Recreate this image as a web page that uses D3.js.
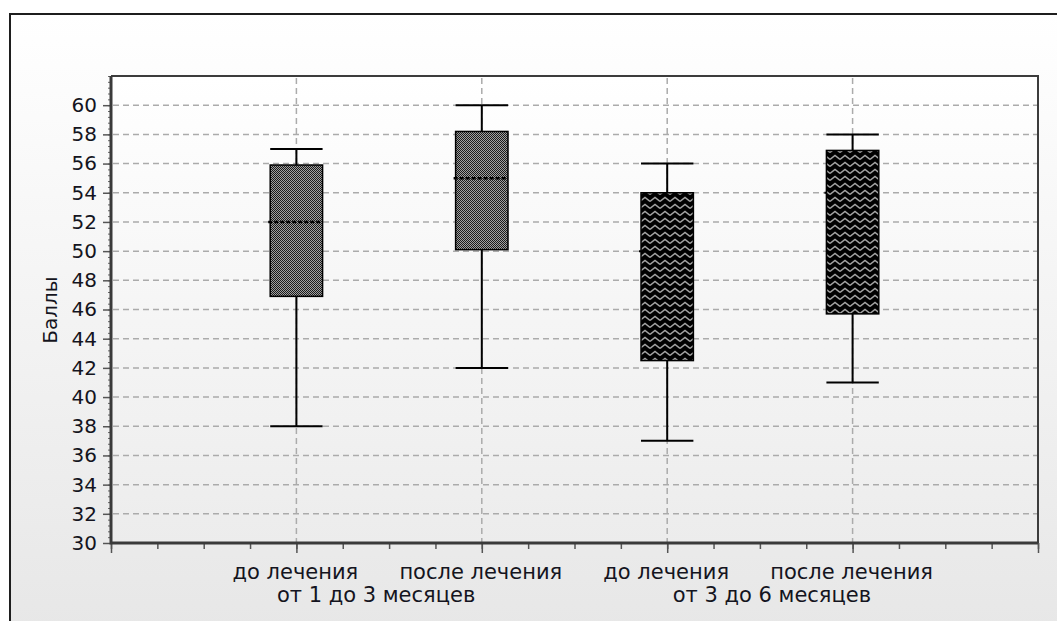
<!DOCTYPE html>
<html>
<head>
<meta charset="utf-8">
<script src="https://cdn.jsdelivr.net/npm/d3@7"></script>
<style>
  html, body { margin: 0; padding: 0; background: #ffffff; }
  svg { display: block; }
  text { font-family: "DejaVu Sans", Verdana, sans-serif; fill: #141420; }
</style>
</head>
<body>
<svg id="chart" width="1057" height="621"></svg>
<script>
// ---- data ----
const categories   = ["до лечения", "после лечения", "до лечения", "после лечения"];
const groupLabels  = ["от 1 до 3 месяцев", "от 3 до 6 месяцев"];
const whiskerLow   = [38, 42, 37, 41];
const q1           = [46.9, 50.1, 42.5, 45.7];
const median       = [52, 55, 50, 54];
const q3           = [55.9, 58.2, 54.0, 56.9];
const whiskerHigh  = [57, 60, 56, 58];
const fillKind     = ["dots", "dots", "zigzag", "zigzag"];
const yTickValues  = d3.range(30, 61, 2);
const yLabel       = "Баллы";

// ---- layout ----
const W = 1057, H = 621;
const plot = { left: 111, top: 76, right: 1038, bottom: 543 };
const svg = d3.select("#chart");

const x = d3.scaleLinear().domain([0, 20]).range([plot.left, plot.right]);
const y = d3.scaleLinear().domain([30, 62]).range([plot.bottom, plot.top]);
const catPos = i => 4 * (i + 1);
const boxW = x(1.13) - x(0);

const defs = svg.append("defs");
const bgGrad = defs.append("linearGradient").attr("id", "bgGrad")
  .attr("x1", 0).attr("y1", 0).attr("x2", 0).attr("y2", 1);
bgGrad.append("stop").attr("offset", "0%").attr("stop-color", "#ffffff");
bgGrad.append("stop").attr("offset", "100%").attr("stop-color", "#e6e6e6");
const plotGrad = defs.append("linearGradient").attr("id", "plotGrad")
  .attr("x1", 0).attr("y1", 0).attr("x2", 0).attr("y2", 1);
plotGrad.append("stop").attr("offset", "0%").attr("stop-color", "#ffffff");
plotGrad.append("stop").attr("offset", "100%").attr("stop-color", "#ececec");

// dotted (checker) pattern
const pDots = defs.append("pattern").attr("id", "dots").attr("patternUnits", "userSpaceOnUse")
  .attr("width", 2).attr("height", 2);
pDots.append("rect").attr("width", 2).attr("height", 2).attr("fill", "#a0a0a0");
pDots.append("rect").attr("x", 0).attr("y", 0).attr("width", 1).attr("height", 1).attr("fill", "#1a1a1a");
pDots.append("rect").attr("x", 1).attr("y", 1).attr("width", 1).attr("height", 1).attr("fill", "#1a1a1a");

// zigzag pattern
const pZig = defs.append("pattern").attr("id", "zigzag").attr("patternUnits", "userSpaceOnUse")
  .attr("width", 10).attr("height", 7);
pZig.append("rect").attr("width", 10).attr("height", 7).attr("fill", "#000000");
pZig.append("path").attr("d", "M0,5.5 L5,1.5 L10,5.5").attr("fill", "none")
  .attr("stroke", "#a4a4a4").attr("stroke-width", 1.4);

// outer background
svg.append("rect").attr("x", 0).attr("y", 0).attr("width", W).attr("height", H).attr("fill", "#ffffff");
svg.append("rect").attr("x", 10).attr("y", 14).attr("width", W + 20).attr("height", H + 20)
  .attr("fill", "url(#bgGrad)").attr("stroke", "#1e1e1e").attr("stroke-width", 2);

// plot area background
svg.append("rect").attr("x", plot.left).attr("y", plot.top)
  .attr("width", plot.right - plot.left).attr("height", plot.bottom - plot.top)
  .attr("fill", "url(#plotGrad)");

// gridlines
const grid = svg.append("g");
grid.selectAll("line.h").data(yTickValues.filter(v => v > 30)).join("line")
  .attr("x1", plot.left + 2).attr("x2", plot.right)
  .attr("y1", d => y(d)).attr("y2", d => y(d))
  .attr("stroke", "#ababab").attr("stroke-width", 1.5).attr("stroke-dasharray", "6,4");
grid.selectAll("line.v").data(categories.map((c, i) => catPos(i))).join("line")
  .attr("x1", d => x(d)).attr("x2", d => x(d))
  .attr("y1", plot.top + 2).attr("y2", plot.bottom)
  .attr("stroke", "#ababab").attr("stroke-width", 1.5).attr("stroke-dasharray", "6,4");

// boxes
const idx = categories.map((c, i) => i);
const boxes = svg.append("g").selectAll("g").data(idx).join("g");
boxes.append("line")
  .attr("x1", i => x(catPos(i))).attr("x2", i => x(catPos(i)))
  .attr("y1", i => y(whiskerHigh[i])).attr("y2", i => y(q3[i]))
  .attr("stroke", "#000").attr("stroke-width", 2);
boxes.append("line")
  .attr("x1", i => x(catPos(i))).attr("x2", i => x(catPos(i)))
  .attr("y1", i => y(q1[i])).attr("y2", i => y(whiskerLow[i]))
  .attr("stroke", "#000").attr("stroke-width", 2);
boxes.append("line")
  .attr("x1", i => x(catPos(i)) - boxW / 2).attr("x2", i => x(catPos(i)) + boxW / 2)
  .attr("y1", i => y(whiskerHigh[i])).attr("y2", i => y(whiskerHigh[i]))
  .attr("stroke", "#000").attr("stroke-width", 2);
boxes.append("line")
  .attr("x1", i => x(catPos(i)) - boxW / 2).attr("x2", i => x(catPos(i)) + boxW / 2)
  .attr("y1", i => y(whiskerLow[i])).attr("y2", i => y(whiskerLow[i]))
  .attr("stroke", "#000").attr("stroke-width", 2);
// median under the box for dark (zigzag) fills, so only its small stub shows
boxes.filter(i => fillKind[i] === "zigzag").append("line")
  .attr("x1", i => x(catPos(i)) - boxW / 2 - 2).attr("x2", i => x(catPos(i)) + boxW / 2)
  .attr("y1", i => y(median[i])).attr("y2", i => y(median[i]))
  .attr("stroke", "#000").attr("stroke-width", 2);
boxes.append("rect")
  .attr("x", i => x(catPos(i)) - boxW / 2)
  .attr("y", i => y(q3[i]))
  .attr("width", boxW)
  .attr("height", i => y(q1[i]) - y(q3[i]))
  .attr("fill", i => `url(#${fillKind[i]})`)
  .attr("stroke", "#000").attr("stroke-width", 1.5);
boxes.filter(i => fillKind[i] === "dots").append("line")
  .attr("x1", i => x(catPos(i)) - boxW / 2 - 2).attr("x2", i => x(catPos(i)) + boxW / 2)
  .attr("y1", i => y(median[i])).attr("y2", i => y(median[i]))
  .attr("stroke", "#000").attr("stroke-width", 2.5).attr("stroke-dasharray", "4,2");

// frame (top/right)
svg.append("path")
  .attr("d", `M${plot.left},${plot.top}H${plot.right}V${plot.bottom}`)
  .attr("fill", "none").attr("stroke", "#3c3c3c").attr("stroke-width", 2);

// y axis
const yMinor = svg.append("g").attr("transform", `translate(${plot.left},0)`)
  .call(d3.axisLeft(y).tickValues(d3.range(30, 62.01, 0.4)).tickSize(3).tickFormat(""));
yMinor.select(".domain").remove();
yMinor.selectAll("line").attr("stroke", "#666").attr("stroke-width", 1);
const yAxis = svg.append("g").attr("transform", `translate(${plot.left},0)`)
  .call(d3.axisLeft(y).tickValues(yTickValues).tickSize(8).tickPadding(6));
yAxis.select(".domain").remove();
yAxis.selectAll("line").attr("stroke", "#555").attr("stroke-width", 1.5);
yAxis.selectAll("text").attr("font-size", 20).attr("font-family", "DejaVu Sans, Verdana, sans-serif")
  .attr("fill", "#141420");

// x axis
const xMinor = svg.append("g").attr("transform", `translate(0,${plot.bottom})`)
  .call(d3.axisBottom(x).tickValues(d3.range(0, 21, 1)).tickSize(6).tickFormat(""));
xMinor.select(".domain").remove();
xMinor.selectAll("line").attr("stroke", "#555").attr("stroke-width", 1.5);
const xMajor = svg.append("g").attr("transform", `translate(0,${plot.bottom})`)
  .call(d3.axisBottom(x).tickValues([0, ...idx.map(catPos), 20]).tickSize(10).tickFormat(""));
xMajor.select(".domain").remove();
xMajor.selectAll("line").attr("stroke", "#555").attr("stroke-width", 1.5);

// axis lines (thick)
svg.append("path")
  .attr("d", `M${plot.left},${plot.top}V${plot.bottom}H${plot.right}`)
  .attr("fill", "none").attr("stroke", "#3a3a3a").attr("stroke-width", 3);

// category labels
svg.append("g").selectAll("text").data(categories).join("text")
  .attr("x", (d, i) => x(catPos(i)) - 1)
  .attr("y", 579)
  .attr("text-anchor", "middle").attr("font-size", 21)
  .text(d => d);
const groupOffset = [-13, 12];
svg.append("g").selectAll("text").data(groupLabels).join("text")
  .attr("x", (d, g) => (x(catPos(2 * g)) + x(catPos(2 * g + 1))) / 2 + groupOffset[g])
  .attr("y", 602)
  .attr("text-anchor", "middle").attr("font-size", 21)
  .text(d => d);

// y label
svg.append("text")
  .attr("transform", `translate(57,310) rotate(-90)`)
  .attr("text-anchor", "middle").attr("font-size", 20)
  .text(yLabel);
</script>
</body>
</html>
